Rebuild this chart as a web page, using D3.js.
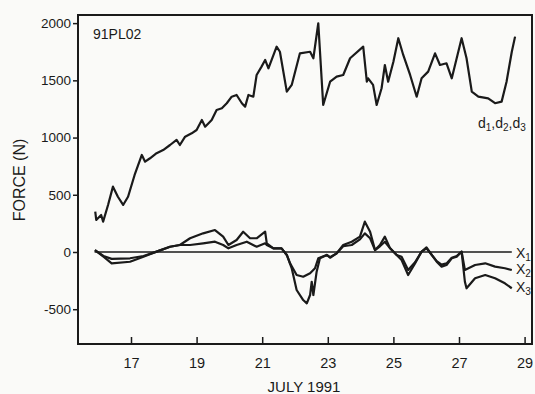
<!DOCTYPE html>
<html>
<head>
<meta charset="utf-8">
<script src="https://cdn.jsdelivr.net/npm/d3@7"></script>
<style>
  body { margin: 0; background: #fafaf8; }
  svg { display: block; }
  text { font-family: "Liberation Sans", Arial, sans-serif; fill: #1a1a1a; }
</style>
</head>
<body>
<svg></svg>
<script>
// days of July 1991 / force (N)
const dDays = [15.91, 15.94, 16.09, 16.15, 16.30, 16.45, 16.60, 16.76, 16.91, 17.11, 17.33, 17.43, 17.58, 17.78, 17.98, 18.19, 18.39, 18.49, 18.65, 18.85, 19.00, 19.16, 19.26, 19.46, 19.61, 19.77, 19.92, 20.07, 20.22, 20.38, 20.48, 20.58, 20.73, 20.83, 20.98, 21.09, 21.19, 21.44, 21.54, 21.75, 21.90, 22.15, 22.46, 22.56, 22.71, 22.86, 23.07, 23.27, 23.47, 23.68, 24.08, 24.19, 24.23, 24.38, 24.49, 24.64, 24.74, 24.84, 25.00, 25.15, 25.30, 25.51, 25.71, 25.86, 26.06, 26.27, 26.42, 26.62, 26.78, 26.93, 27.08, 27.23, 27.39, 27.59, 27.89, 28.10, 28.30, 28.45, 28.61, 28.71];
const dVals = [352, 280, 323, 265, 411, 571, 483, 411, 483, 673, 848, 789, 819, 863, 891, 935, 979, 935, 1008, 1037, 1066, 1154, 1095, 1154, 1241, 1256, 1300, 1357, 1372, 1300, 1270, 1372, 1357, 1547, 1620, 1678, 1605, 1794, 1750, 1401, 1460, 1736, 1750, 1693, 1999, 1285, 1488, 1532, 1547, 1693, 1794, 1488, 1518, 1460, 1285, 1431, 1634, 1488, 1663, 1868, 1722, 1547, 1357, 1518, 1576, 1736, 1634, 1649, 1518, 1693, 1868, 1693, 1401, 1357, 1343, 1300, 1314, 1488, 1750, 1882];

const x1Days = [15.89, 28.61];
const x1Vals = [0, 0];

const x2Days = [15.90, 16.16, 16.41, 16.97, 17.38, 17.78, 18.19, 18.49, 18.80, 19.20, 19.56, 19.81, 19.97, 20.22, 20.53, 20.83, 21.09, 21.14, 21.34, 21.59, 21.75, 21.85, 22.05, 22.25, 22.46, 22.61, 22.71, 22.97, 23.07, 23.27, 23.47, 23.73, 23.98, 24.13, 24.29, 24.44, 24.59, 24.74, 24.90, 25.10, 25.25, 25.45, 25.66, 25.86, 26.01, 26.17, 26.32, 26.47, 26.62, 26.78, 26.93, 27.08, 27.18, 27.49, 27.80, 28.10, 28.40, 28.61];
const x2Vals = [17, -35, -60, -55, -35, 3, 46, 61, 61, 76, 90, 61, 32, 61, 90, 46, 76, 60, 32, 32, -26, -99, -201, -216, -186, -142, -55, -26, -45, -12, 50, 61, 110, 163, 120, 17, 50, 90, 32, -26, -41, -157, -90, 3, 32, -26, -80, -110, -100, -50, -35, 3, -157, -114, -99, -128, -142, -157];

const x3Days = [15.90, 16.16, 16.41, 16.97, 17.38, 17.78, 18.19, 18.49, 18.80, 19.20, 19.56, 19.81, 19.97, 20.22, 20.42, 20.63, 20.83, 21.09, 21.14, 21.34, 21.59, 21.75, 21.90, 22.05, 22.25, 22.36, 22.46, 22.51, 22.56, 22.66, 22.76, 22.97, 23.07, 23.27, 23.47, 23.73, 23.98, 24.13, 24.29, 24.44, 24.59, 24.74, 24.90, 25.10, 25.25, 25.45, 25.66, 25.86, 26.01, 26.17, 26.32, 26.47, 26.62, 26.78, 26.93, 27.08, 27.18, 27.23, 27.49, 27.80, 28.10, 28.40, 28.61];
const x3Vals = [17, -41, -99, -85, -41, 3, 46, 61, 120, 163, 192, 134, 61, 105, 177, 120, 120, 177, 76, 32, 32, -26, -142, -332, -420, -449, -376, -260, -376, -172, -55, -26, -50, -12, 61, 90, 134, 265, 177, 17, 61, 134, 32, -26, -70, -201, -99, 3, 40, -26, -85, -128, -114, -55, -41, 3, -260, -317, -230, -201, -230, -274, -317];

const xTicks = [17, 19, 21, 23, 25, 27, 29];
const yTicks = [-500, 0, 500, 1000, 1500, 2000];

const w = 535, h = 394;
const mLeft = 78, mRight = 532, mTop = 15, mBottom = 344;

const svg = d3.select("svg").attr("width", w).attr("height", h);

const x = d3.scaleLinear().domain([15.384, 29.226]).range([mLeft, mRight]);
const y = d3.scaleLinear().domain([-804, 2071]).range([mBottom, mTop]);

// frame
svg.append("rect")
    .attr("x", mLeft).attr("y", mTop)
    .attr("width", mRight - mLeft).attr("height", mBottom - mTop)
    .attr("fill", "none").attr("stroke", "#1a1a1a").attr("stroke-width", 2);

// axes
const yAxis = svg.append("g")
    .attr("transform", `translate(${mLeft},0)`)
    .call(d3.axisLeft(y).tickValues(yTicks).tickSize(5).tickPadding(2).tickFormat(d => String(d)));
yAxis.select(".domain").remove();
yAxis.selectAll("line").attr("stroke", "#1a1a1a").attr("stroke-width", 1.5);
yAxis.selectAll("text").attr("font-size", 13.5).attr("font-family", null);

const xAxis = svg.append("g")
    .attr("transform", `translate(0,${mBottom})`)
    .call(d3.axisBottom(x).tickValues(xTicks).tickSize(-7).tickPadding(14));
xAxis.select(".domain").remove();
xAxis.selectAll("line").attr("stroke", "#1a1a1a").attr("stroke-width", 1.5);
xAxis.selectAll("text").attr("font-size", 14.5).attr("font-family", null);

// series
const line = d3.line().x(d => x(d[0])).y(d => y(d[1]));
function draw(days, vals, sw) {
    svg.append("path")
        .datum(days.map((d, i) => [d, vals[i]]))
        .attr("d", line)
        .attr("fill", "none")
        .attr("stroke", "#1a1a1a")
        .attr("stroke-width", sw)
        .attr("stroke-linejoin", "round");
}
draw(x1Days, x1Vals, 1.5);
draw(x2Days, x2Vals, 2.2);
draw(x3Days, x3Vals, 2.2);
draw(dDays, dVals, 2.2);

// labels
svg.append("text").attr("x", 93).attr("y", 39).attr("font-size", 14).text("91PL02");

svg.append("text")
    .attr("transform", "translate(25,180) rotate(-90)")
    .attr("text-anchor", "middle").attr("font-size", 16)
    .text("FORCE (N)");

svg.append("text")
    .attr("x", 304).attr("y", 392)
    .attr("text-anchor", "middle").attr("font-size", 15)
    .text("JULY 1991");

function subLabel(px, py, parts) {
    const t = svg.append("text").attr("x", px).attr("y", py).attr("font-size", 14);
    parts.forEach(p => {
        t.append("tspan").text(p[0]);
        t.append("tspan").attr("font-size", 10).attr("dy", 3).text(p[1]);
        t.append("tspan").attr("dy", -3).text(p[2] || "");
    });
}
subLabel(478, 128, [["d", "1", ","], ["d", "2", ","], ["d", "3"]]);
subLabel(516, 258, [["X", "1"]]);
subLabel(516, 274, [["X", "2"]]);
subLabel(516, 292, [["X", "3"]]);
</script>
</body>
</html>
